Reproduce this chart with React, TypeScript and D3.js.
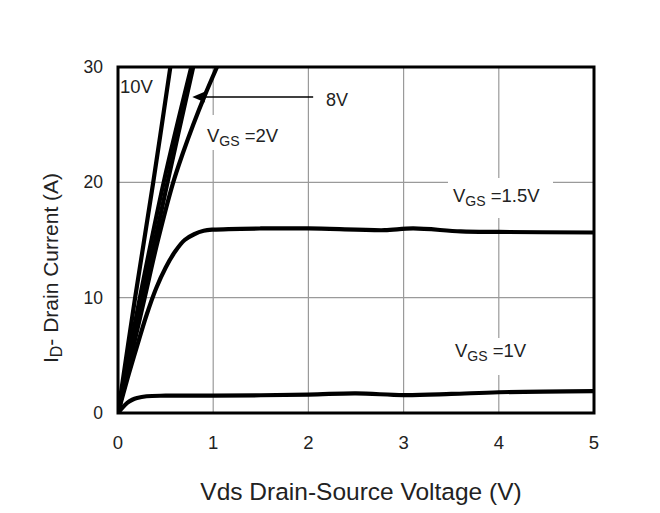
import React from "react";
import * as d3 from "d3";

const xTicks = [0, 1, 2, 3, 4, 5];
const yTicks = [0, 10, 20, 30];

// [Vds, Id] points per curve
const vgs10V: [number, number][] = [[0, 0], [0.18, 10], [0.37, 20], [0.55, 30]];
const vgs8V: [number, number][] = [[0, 0], [0.23, 10], [0.48, 20], [0.77, 30]];
const vgs4V: [number, number][] = [[0, 0], [0.26, 10], [0.52, 20], [0.79, 30]];
const vgs2V: [number, number][] = [
  [0, 0], [0.14, 5], [0.28, 10], [0.42, 15], [0.58, 20], [0.68, 22.5], [0.79, 25], [0.91, 27.5], [1.04, 30],
];
const vgs1_5V: [number, number][] = [
  [0, 0], [0.1, 3], [0.2, 5.8], [0.3, 8.5], [0.4, 10.8], [0.5, 12.6], [0.6, 14], [0.7, 15],
  [0.8, 15.5], [0.9, 15.8], [1, 15.9], [1.5, 16], [2, 16], [2.5, 15.9], [2.8, 15.85], [3.1, 16.0],
  [3.6, 15.75], [4, 15.7], [5, 15.65],
];
const vgs1V: [number, number][] = [
  [0, 0], [0.05, 0.5], [0.1, 0.9], [0.15, 1.15], [0.2, 1.3], [0.3, 1.45], [0.5, 1.5], [1, 1.5],
  [2, 1.6], [2.5, 1.7], [3, 1.55], [3.5, 1.65], [4, 1.8], [5, 1.9],
];
const curves = [vgs10V, vgs8V, vgs4V, vgs2V, vgs1_5V, vgs1V];

const W = 660, H = 513;
const L = 118, R = 594, T = 67, B = 413;
const FONT = "'Liberation Sans', Arial, sans-serif";
const TXT = "#222";

export default function App() {
  const x = d3.scaleLinear().domain([0, 5]).range([L, R]);
  const y = d3.scaleLinear().domain([0, 30]).range([B, T]);
  const line = d3.line<[number, number]>().x(d => x(d[0])).y(d => y(d[1])).curve(d3.curveCatmullRom.alpha(0.5));

  const sub = (main: string, s: string, rest: string, px: number, py: number, fs: number) => (
    <text x={px} y={py} fontFamily={FONT} fontSize={fs} fill={TXT}>
      {main}
      <tspan fontSize={fs * 0.76} dy={4}>{s}</tspan>
      <tspan dy={-4}>{rest}</tspan>
    </text>
  );

  const ay = y(27.4);
  const ax = x(0.78);

  return (
    <svg width={W} height={H} style={{ position: "absolute", left: 0, top: 0, background: "#fff" }}>
      <defs>
        <clipPath id="plot"><rect x={L} y={T} width={R - L} height={B - T} /></clipPath>
      </defs>
      {/* grid */}
      {xTicks.slice(1, -1).map(t => (
        <line key={"gx" + t} x1={x(t)} x2={x(t)} y1={T} y2={B} stroke="#9a9a9a" strokeWidth={1.2} />
      ))}
      {yTicks.slice(1, -1).map(t => (
        <line key={"gy" + t} x1={L} x2={R} y1={y(t)} y2={y(t)} stroke="#9a9a9a" strokeWidth={1.2} />
      ))}
      {/* label backgrounds breaking the grid */}
      <rect x={204} y={115} width={84} height={35} fill="#fff" />
      <rect x={448} y={178} width={105} height={40} fill="#fff" />
      <rect x={448} y={338} width={90} height={37} fill="#fff" />

      {/* curves */}
      <g clipPath="url(#plot)">
        {curves.map((c, i) => (
          <path key={i} d={line(c) || ""} fill="none" stroke="#000" strokeWidth={4.2} strokeLinejoin="round" strokeLinecap="round" />
        ))}
      </g>

      {/* frame */}
      <rect x={L} y={T} width={R - L} height={B - T} fill="none" stroke="#000" strokeWidth={3} />

      {/* tick labels */}
      {yTicks.map(t => (
        <text key={"yt" + t} x={103} y={y(t) + 6} textAnchor="end" fontFamily={FONT} fontSize={17.5} fill={TXT}>{t}</text>
      ))}
      {xTicks.map(t => (
        <text key={"xt" + t} x={x(t)} y={449} textAnchor="middle" fontFamily={FONT} fontSize={18.5} fill={TXT}>{t}</text>
      ))}

      {/* annotations */}
      <text x={120} y={93} fontFamily={FONT} fontSize={18.5} fill={TXT}>10V</text>
      <line x1={x(2.05)} x2={ax + 8} y1={ay} y2={ay} stroke="#000" strokeWidth={1.5} />
      <path d={`M${ax},${ay} L${ax + 13},${ay - 5.5} L${ax + 10},${ay} L${ax + 13},${ay + 5.5} Z`} fill="#000" />
      <text x={326} y={106} fontFamily={FONT} fontSize={18} fill={TXT}>8V</text>
      {sub("V", "GS", " =2V", 207, 142, 18.5)}
      {sub("V", "GS", " =1.5V", 453, 202, 18.5)}
      {sub("V", "GS", " =1V", 455, 357, 18.5)}

      {/* axis titles */}
      <text x={361} y={500} textAnchor="middle" fontFamily={FONT} fontSize={24.5} fill={TXT}>Vds Drain-Source Voltage (V)</text>
      <text transform={`translate(58,268) rotate(-90)`} textAnchor="middle" fontFamily={FONT} fontSize={21} fill={TXT}>
        I<tspan fontSize={16} dy={4}>D</tspan><tspan dy={-4}>- Drain Current (A)</tspan>
      </text>
    </svg>
  );
}
